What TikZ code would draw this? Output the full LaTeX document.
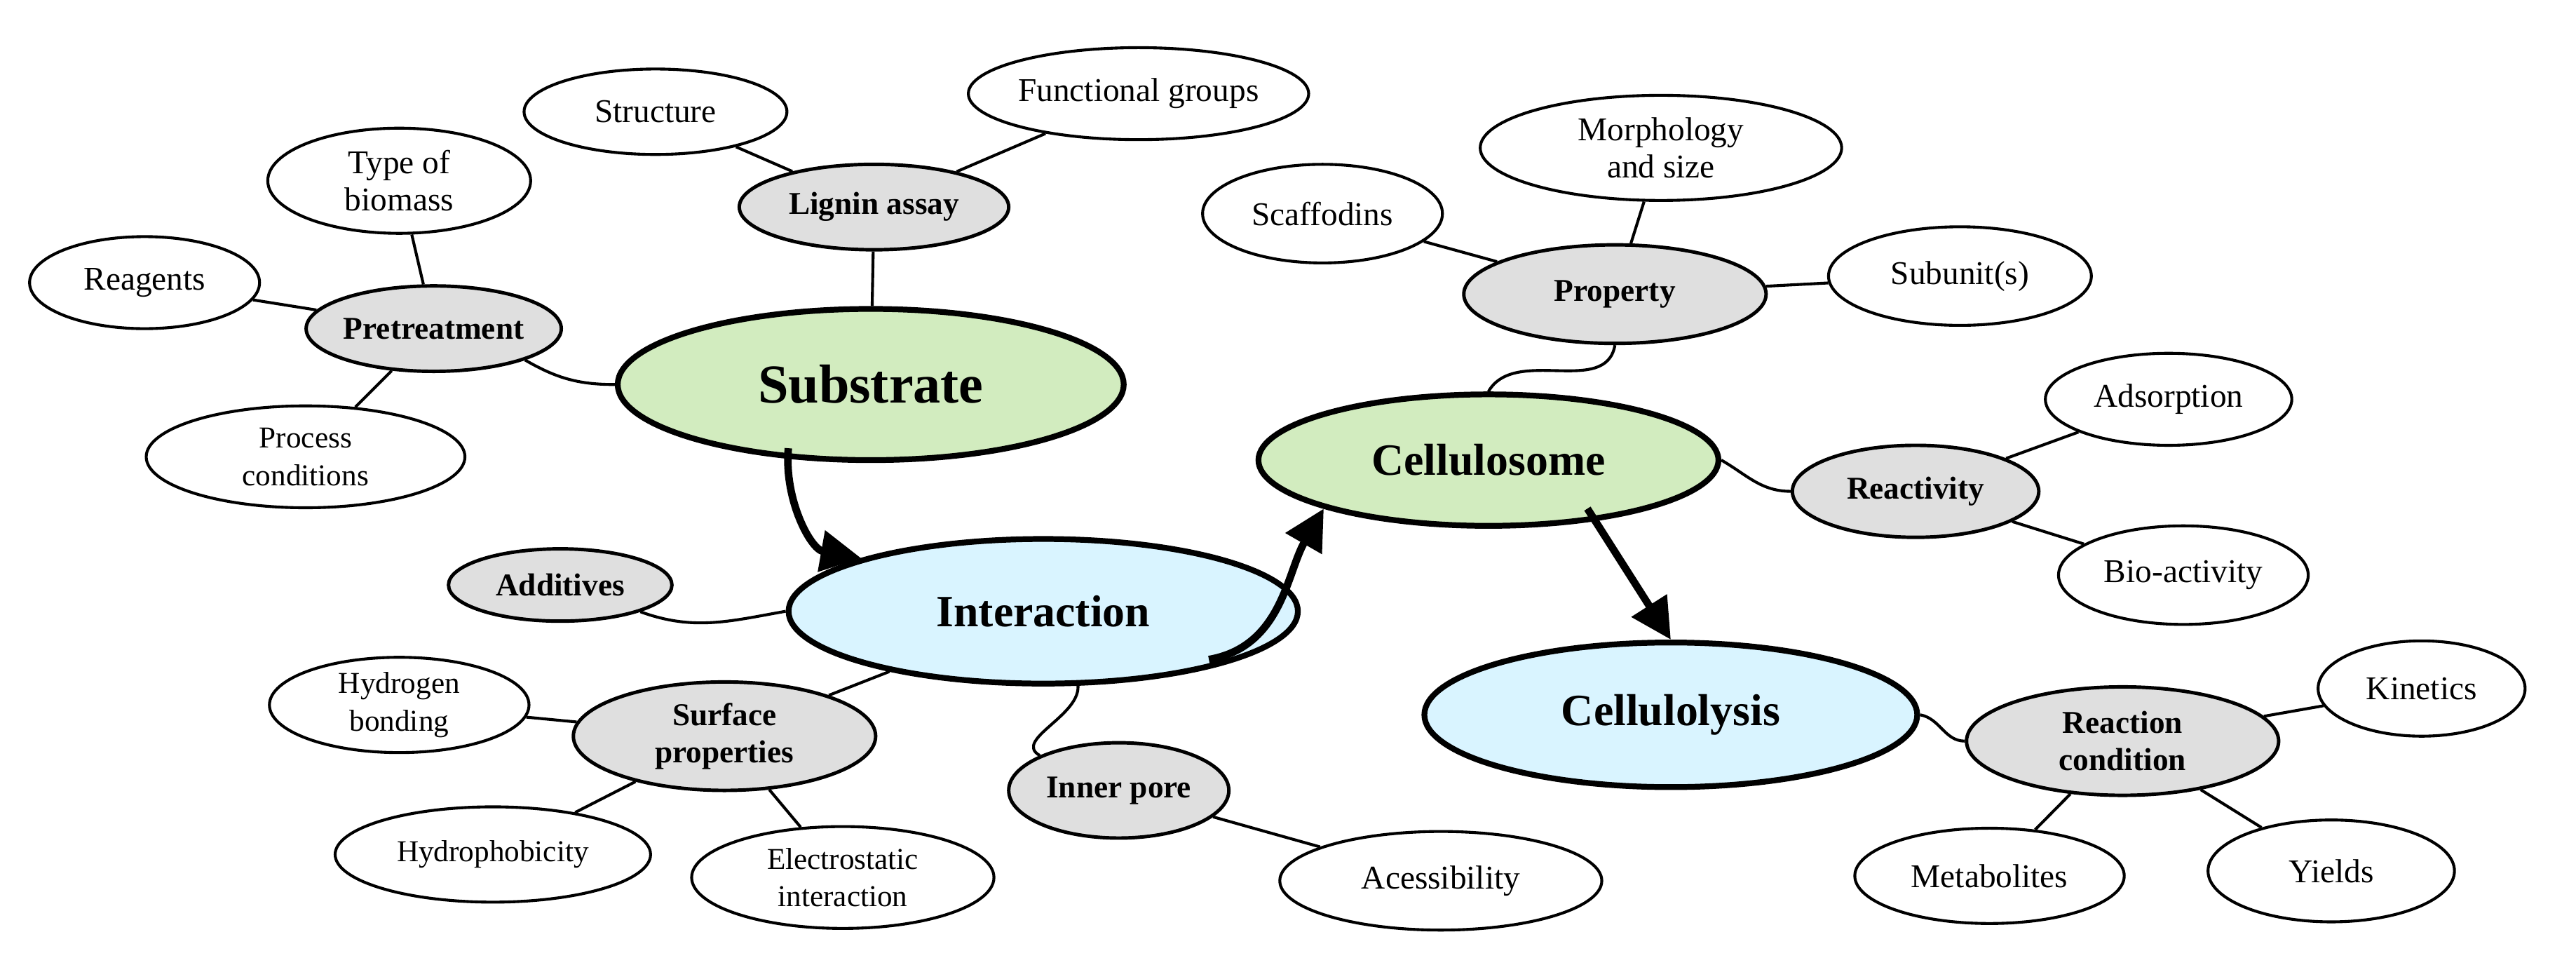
\documentclass[tikz,border=0pt]{standalone}
\usepackage{fontspec}
\setmainfont{Liberation Serif}
\usetikzlibrary{shapes.geometric,arrows.meta}
\begin{document}
\begin{tikzpicture}[x=0.02cm,y=-0.02cm,
 base/.style={ellipse,draw=black,inner sep=0pt,align=center,line width=1pt},
 w/.style={base,fill=white,font=\fontsize{11.5}{13}\selectfont},
 g/.style={base,fill=gray!25,font=\fontsize{11}{13}\selectfont\bfseries,line width=1.2pt},
 big/.style={base,line width=2pt,font=\fontsize{15.5}{18}\selectfont\bfseries},
 green/.style={big,fill=green!40!olive!25},
 blue/.style={big,fill=blue!30!cyan!15},
 ln/.style={line width=1pt},
 arr/.style={line width=2.6pt,-{Triangle[length=14pt,width=14pt]}}]
\useasboundingbox (0,0) rectangle (1568,587);
\newcommand{\E}[6]{\node[#1,minimum width=#4*0.02cm,minimum height=#5*0.02cm] (#6) at (#2,#3)}
\E{green}{530}{234}{308}{92}{sub} {\fontsize{19}{22}\selectfont Substrate};
\E{green}{906}{280}{280}{80}{cel} {Cellulosome};
\E{blue}{635}{372}{310}{88}{int} {Interaction};
\E{blue}{1017}{435}{300}{88}{lys} {Cellulolysis};
\E{g}{532}{126}{164}{52}{lig} {Lignin assay};
\E{g}{264}{200}{152}{52}{pre} {Pretreatment};
\E{g}{983}{179}{184}{60}{prop} {Property};
\E{g}{1166}{299}{150}{56}{rea} {Reactivity};
\E{g}{341}{356}{136}{44}{add} {Additives};
\E{g}{441}{448}{184}{66}{surf} {Surface\\properties};
\E{g}{681}{481}{134}{58}{pore} {Inner pore};
\E{g}{1292}{451}{190}{66}{rc} {Reaction\\condition};
\E{w}{399}{68}{160}{52}{str} {Structure};
\E{w}{693}{57}{204}{56}{fg} {Functional groups};
\E{w}{243}{110}{160}{64}{tob} {Type of\\biomass};
\E{w}{88}{172}{140}{56}{reag} {Reagents};
\E{w}{186}{278}{194}{62}{pc} {\fontsize{10.5}{12}\selectfont Process\\\fontsize{10.5}{12}\selectfont conditions};
\E{w}{805}{130}{146}{60}{sca} {Scaffodins};
\E{w}{1011}{90}{220}{64}{mor} {Morphology\\and size};
\E{w}{1193}{168}{160}{60}{subu} {Subunit(s)};
\E{w}{1320}{243}{150}{56}{ads} {Adsorption};
\E{w}{1329}{350}{152}{60}{bio} {Bio-activity};
\E{w}{243}{429}{158}{58}{hb} {\fontsize{10.5}{12}\selectfont Hydrogen\\\fontsize{10.5}{12}\selectfont bonding};
\E{w}{300}{520}{192}{58}{hp} {\fontsize{10.5}{12}\selectfont Hydrophobicity};
\E{w}{513}{534}{184}{62}{ei} {\fontsize{10.5}{12}\selectfont Electrostatic\\\fontsize{10.5}{12}\selectfont interaction};
\E{w}{877}{536}{196}{60}{acc} {Acessibility};
\E{w}{1474}{419}{126}{58}{kin} {Kinetics};
\E{w}{1211}{533}{164}{58}{met} {Metabolites};
\E{w}{1419}{530}{150}{62}{yie} {Yields};
\begin{scope}[on background layer/.style={}]
\end{scope}
% connectors
\draw[ln] (str) -- (lig);
\draw[ln] (fg) -- (lig);
\draw[ln] (lig) -- (sub);
\draw[ln] (tob) -- (pre);
\draw[ln] (reag) -- (pre);
\draw[ln] (pc) -- (pre);
\draw[ln] (pre.south east) to[out=-30,in=180] (sub.west);
\draw[ln] (sca) -- (prop);
\draw[ln] (mor) -- (prop);
\draw[ln] (subu) -- (prop);
\draw[ln] (prop.south) to[out=-100,in=60] (cel.north);
\draw[ln] (cel.east) to[out=-30,in=180] (rea.west);
\draw[ln] (ads) -- (rea);
\draw[ln] (bio) -- (rea);
\draw[ln] (add.south east) to[out=-20,in=190] (int.west);
\draw[ln] (hb) -- (surf);
\draw[ln] (hp) -- (surf);
\draw[ln] (ei) -- (surf);
\draw[ln] (surf) -- (int);
\draw[ln] (int.south) ++(20,0) coordinate (ip) ;
\draw[ln] (656,416) to[out=-80,in=150] (pore.north west);
\draw[ln] (pore) -- (acc);
\draw[ln] (lys.east) to[out=-10,in=180] (rc.west);
\draw[ln] (kin) -- (rc);
\draw[ln] (met) -- (rc);
\draw[ln] (yie) -- (rc);
% arrows
\draw[arr] (sub.south west) ++(60,5) to[out=-95,in=170] (int.north west);
\draw[arr] (int.south east) ++(-10,-3) to[out=10,in=-120] (cel.south west);
\draw[arr] (cel.south east) ++(-40,0) -- (lys.north);
\end{tikzpicture}
\end{document}
